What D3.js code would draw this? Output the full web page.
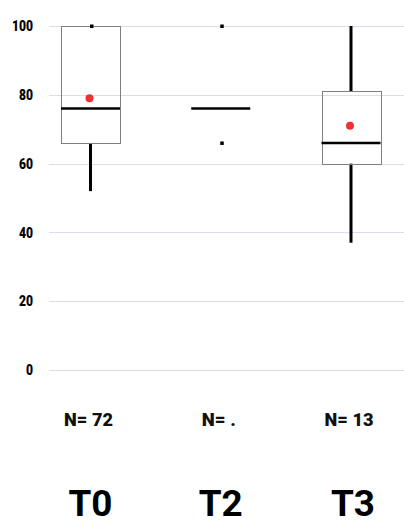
<!DOCTYPE html>
<html><head><meta charset="utf-8">
<script src="https://cdn.jsdelivr.net/npm/d3@7"></script>
<style>html,body{margin:0;padding:0;background:#fff;}svg{display:block;}</style>
</head><body>
<script>
const categories = ["T0", "T2", "T3"];
const nLabels = ["N= 72", "N= .", "N= 13"];
const q1 = [66, null, 60];
const median = [76, 76, 66];
const q3 = [100, null, 81];
const whiskerLow = [52, null, 37];
const whiskerHigh = [100, null, 100];
const means = [79, null, 71];
const markers = [[100], [100, 66], []];
const yTicks = [0, 20, 40, 60, 80, 100];

const W = 404, H = 525;
const svg = d3.select("body").append("svg").attr("width", W).attr("height", H);
const y = d3.scaleLinear().domain([0, 100]).range([370, 26]);
const x = d3.scalePoint().domain(categories).range([90.5, 351]);
const boxW = 59;
const font = "Roboto, 'Liberation Sans', sans-serif";

// gridlines
svg.append("g").selectAll("line").data(yTicks).join("line")
  .attr("x1", 49).attr("x2", W)
  .attr("y1", d => Math.round(y(d)) + 0.5).attr("y2", d => Math.round(y(d)) + 0.5)
  .attr("stroke", "#dcdcea").attr("stroke-width", 1);

// y axis labels
const yAxis = d3.axisLeft(y).tickValues(yTicks).tickSize(0).tickPadding(0);
const gy = svg.append("g").attr("transform", "translate(33,0)").call(yAxis);
gy.select(".domain").remove();
gy.selectAll("text").attr("font-family", font).attr("font-weight", "900")
  .attr("font-size", 14.5).attr("fill", "#000").attr("dy", "0.33em")
  .attr("textLength", d => String(d).length * 7).attr("lengthAdjust", "spacingAndGlyphs");

const data = categories.map((c, i) => ({c, i}));
const g = svg.append("g");

data.forEach(d => {
  const i = d.i, cx = x(d.c);
  if (whiskerLow[i] != null && q1[i] != null && whiskerLow[i] < q1[i]) {
    g.append("line").attr("x1", cx).attr("x2", cx)
      .attr("y1", y(q1[i])).attr("y2", y(whiskerLow[i]))
      .attr("stroke", "#000").attr("stroke-width", 3);
  }
  if (whiskerHigh[i] != null && q3[i] != null && whiskerHigh[i] > q3[i]) {
    g.append("line").attr("x1", cx).attr("x2", cx)
      .attr("y1", y(q3[i])).attr("y2", y(whiskerHigh[i]))
      .attr("stroke", "#000").attr("stroke-width", 3);
  }
  if (q1[i] != null) {
    g.append("rect").attr("x", Math.round(cx - boxW / 2) + 0.5)
      .attr("y", Math.round(y(q3[i])) + 0.5)
      .attr("width", boxW).attr("height", Math.round(y(q1[i])) - Math.round(y(q3[i])))
      .attr("fill", "none").attr("stroke", "#7f7f7f").attr("stroke-width", 1);
  }
  g.append("line").attr("x1", cx - boxW / 2).attr("x2", cx + boxW / 2)
    .attr("y1", y(median[i])).attr("y2", y(median[i]))
    .attr("stroke", "#000").attr("stroke-width", 2.5);
  markers[i].forEach(v => {
    g.append("rect").attr("x", cx - 1.5 + 1).attr("y", y(v) - 1.5)
      .attr("width", 3.5).attr("height", 3.5).attr("fill", "#000");
  });
  if (means[i] != null) {
    g.append("circle").attr("cx", cx - 1).attr("cy", y(means[i])).attr("r", 4)
      .attr("fill", "#ee3030");
  }
});

// N labels
svg.append("g").selectAll("text").data(data).join("text")
  .attr("x", d => x(d.c) - 2).attr("y", 426)
  .attr("text-anchor", "middle").attr("font-family", font).attr("font-weight", "900")
  .attr("font-size", 18.5).attr("fill", "#111")
  .attr("textLength", (d) => d.i === 1 ? 34 : 49).attr("lengthAdjust", "spacingAndGlyphs")
  .text(d => nLabels[d.i]);

// category labels
svg.append("g").selectAll("text").data(data).join("text")
  .attr("x", d => x(d.c) + (d.i === 2 ? 2 : 0)).attr("y", 516)
  .attr("text-anchor", "middle").attr("font-family", font).attr("font-weight", "bold")
  .attr("font-size", 36).attr("fill", "#000")
  .attr("textLength", 44).attr("lengthAdjust", "spacingAndGlyphs")
  .text(d => d.c);
</script>
</body></html>
